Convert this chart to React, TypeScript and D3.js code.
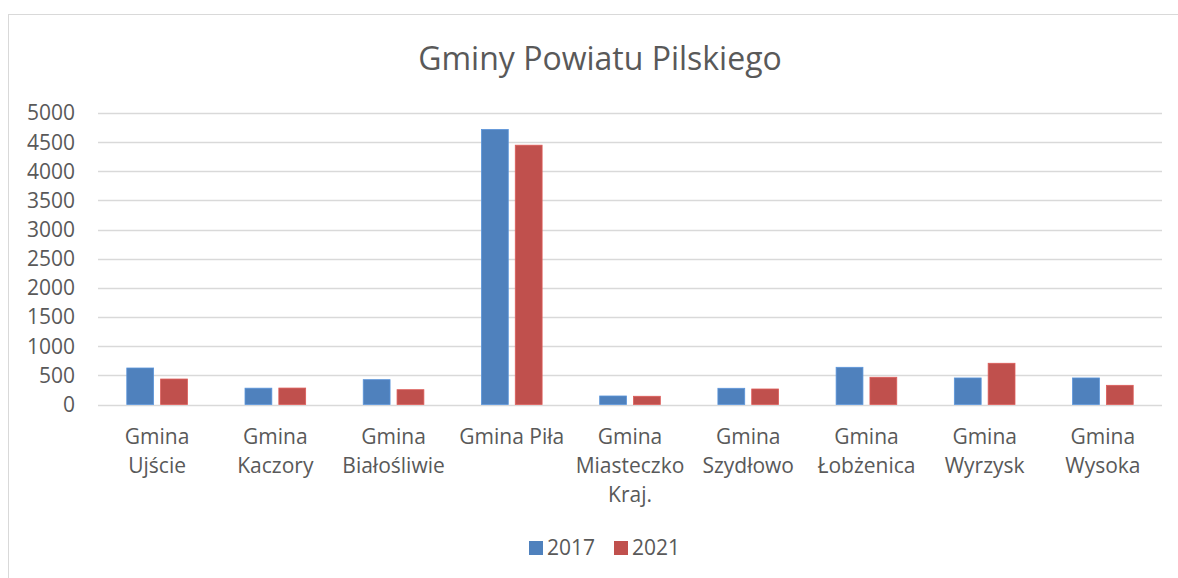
import React, { useEffect, useRef } from "react";
import * as d3 from "d3";

const categories = [
  ["Gmina", "Ujście"],
  ["Gmina", "Kaczory"],
  ["Gmina", "Białośliwie"],
  ["Gmina Piła"],
  ["Gmina", "Miasteczko", "Kraj."],
  ["Gmina", "Szydłowo"],
  ["Gmina", "Łobżenica"],
  ["Gmina", "Wyrzysk"],
  ["Gmina", "Wysoka"],
];
const seriesNames = ["2017", "2021"];
const values2017 = [626, 280, 426, 4718, 146, 278, 638, 455, 455];
const values2021 = [437, 282, 254, 4448, 141, 266, 467, 707, 329];
const yTicks = [0, 500, 1000, 1500, 2000, 2500, 3000, 3500, 4000, 4500, 5000];
const colors = ["#4f81bd", "#c0504d"];

const FONT = "'Open Sans', 'DejaVu Sans', sans-serif";
const TEXT = "#595959";
const GRID = "#d9d9d9";

const App = () => {
  const svgRef = useRef<SVGSVGElement>(null);

  useEffect(() => {
    const width = 1178;
    const height = 578;
    const margin = { top: 113, right: 16, bottom: 173.5, left: 98 };

    const svg = d3.select(svgRef.current);
    svg.selectAll("*").remove();

    // chart frame (runs past the window on the right/bottom)
    svg
      .append("rect")
      .attr("x", 8.5)
      .attr("y", 14.5)
      .attr("width", 1200)
      .attr("height", 600)
      .attr("fill", "#fff")
      .attr("stroke", GRID)
      .attr("stroke-width", 1);

    const labels = categories.map((c) => c.join(" "));

    const x0 = d3
      .scaleBand()
      .domain(labels)
      .range([margin.left, width - margin.right])
      .paddingInner(0.487)
      .paddingOuter(0.2435);

    const x1 = d3
      .scaleBand()
      .domain(seriesNames)
      .range([0, x0.bandwidth()])
      .paddingInner(0.207);

    const y = d3
      .scaleLinear()
      .domain([0, 5000])
      .range([height - margin.bottom, margin.top]);

    // title
    svg
      .append("text")
      .attr("x", 600)
      .attr("y", 70)
      .attr("text-anchor", "middle")
      .attr("font-family", FONT)
      .attr("font-size", 32)
      .attr("fill", TEXT)
      .text("Gminy Powiatu Pilskiego");

    // horizontal grid lines
    svg
      .append("g")
      .selectAll("line")
      .data(yTicks)
      .enter()
      .append("line")
      .attr("x1", margin.left)
      .attr("x2", width - margin.right)
      .attr("y1", (d) => Math.round(y(d)) + 0.5)
      .attr("y2", (d) => Math.round(y(d)) + 0.5)
      .attr("stroke", GRID)
      .attr("stroke-width", 1.5);

    // y tick labels
    svg
      .append("g")
      .selectAll("text")
      .data(yTicks)
      .enter()
      .append("text")
      .attr("x", 75)
      .attr("y", (d) => y(d))
      .attr("dy", "0.35em")
      .attr("text-anchor", "end")
      .attr("font-family", FONT)
      .attr("font-size", 21)
      .attr("fill", TEXT)
      .text((d) => d);

    // bars
    const series = [values2017, values2021];
    series.forEach((vals, si) => {
      svg
        .append("g")
        .selectAll("rect")
        .data(vals)
        .enter()
        .append("rect")
        .attr("x", (d, i) => (x0(labels[i]) as number) + (x1(seriesNames[si]) as number))
        .attr("y", (d) => y(d))
        .attr("width", x1.bandwidth())
        .attr("height", (d) => y(0) - y(d))
        .attr("fill", colors[si])
        .attr("stroke", d3.color(colors[si])!.brighter(0.4).toString())
        .attr("stroke-width", 0.8);
    });

    // category labels
    const catG = svg.append("g");
    categories.forEach((lines, i) => {
      const cx = (x0(labels[i]) as number) + x0.bandwidth() / 2;
      const t = catG
        .append("text")
        .attr("text-anchor", "middle")
        .attr("font-family", FONT)
        .attr("font-size", 21)
        .attr("fill", TEXT);
      lines.forEach((ln, li) => {
        t.append("tspan")
          .attr("x", cx)
          .attr("y", 444 + li * 29)
          .text(ln);
      });
    });

    // legend
    const legendItems = [
      { name: seriesNames[0], x: 529 },
      { name: seriesNames[1], x: 614 },
    ];
    const lg = svg.append("g");
    legendItems.forEach((it, i) => {
      lg.append("rect")
        .attr("x", it.x)
        .attr("y", 541)
        .attr("width", 14)
        .attr("height", 14)
        .attr("fill", colors[i]);
      lg.append("text")
        .attr("x", it.x + 18)
        .attr("y", 548)
        .attr("dy", "0.35em")
        .attr("font-family", FONT)
        .attr("font-size", 21)
        .attr("fill", TEXT)
        .text(it.name);
    });
  }, []);

  return (
    <svg
      ref={svgRef}
      width={1178}
      height={578}
      style={{ position: "absolute", left: 0, top: 0, display: "block", background: "#fff" }}
    ></svg>
  );
};

export default App;
